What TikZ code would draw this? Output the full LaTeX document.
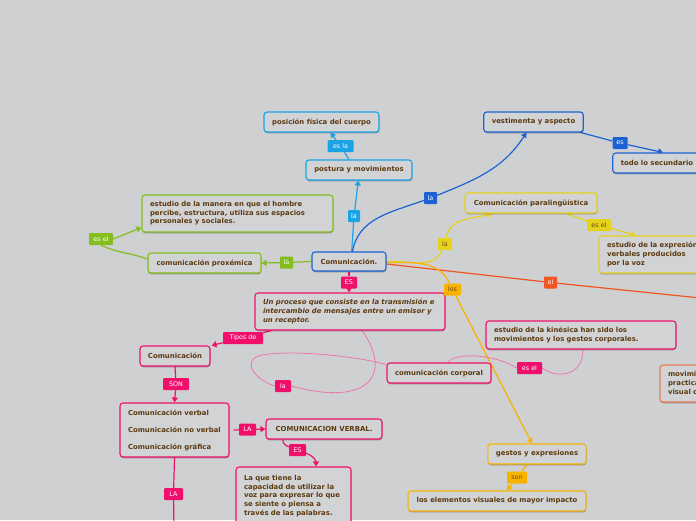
\documentclass[tikz,border=0pt]{standalone}
\usepackage{fontspec}
\setmainfont{DejaVu Sans}
\usetikzlibrary{shadows,arrows.meta}
\definecolor{bg}{HTML}{CFD0D2}
\definecolor{nfill}{HTML}{D2D3D5}
\definecolor{txt}{HTML}{5C3A10}
\definecolor{ltxt}{HTML}{6A4A12}
\definecolor{lblue}{HTML}{1CA3E6}
\definecolor{dblue}{HTML}{1C62D4}
\definecolor{cgreen}{HTML}{84BD1E}
\definecolor{cyellow}{HTML}{E6D219}
\definecolor{corange}{HTML}{F8B300}
\definecolor{cpink}{HTML}{F0106C}
\definecolor{cred}{HTML}{F25522}
\definecolor{csalmon}{HTML}{E97A55}
\definecolor{pthin}{HTML}{EC77A5}
\pgfdeclarelayer{bgl}
\pgfdeclarelayer{lines}
\pgfsetlayers{bgl,lines,main}
\begin{document}
\begin{tikzpicture}[x=1pt,y=-1pt,
  bx/.style={rectangle, draw, line width=1.1pt, rounded corners=3pt, fill=nfill, text=txt,
    font=\bfseries\fontsize{6.9}{8.6}\selectfont, inner xsep=8pt, inner ysep=2pt,
    drop shadow={shadow xshift=0.4pt, shadow yshift=-1.3pt, opacity=0.3, fill=black}},
  ml/.style={align=left, text width=#1},
  lbl/.style={rectangle, rounded corners=1pt, inner sep=0pt, minimum height=12pt,
    text=white, font=\fontsize{6.4}{7}\selectfont},
  con/.style={line width=1.2pt},
  thin/.style={line width=0.8pt, pthin},
  arr/.style={-{Triangle[length=5pt,width=6pt]}}]
\useasboundingbox (0,0) rectangle (696,520);
\begin{pgfonlayer}{bgl}
\fill[bg] (0,0) rectangle (696,520);
\end{pgfonlayer}
\clip (0,0) rectangle (696,520);

% nodes
\node[bx, draw=lblue, minimum width=115pt, minimum height=20pt] (pos) at (321.5,122) {posición física del cuerpo};
\node[bx, draw=lblue, minimum width=106pt, minimum height=20pt] (post) at (359,170) {postura y movimientos};
\node[bx, draw=cgreen, ml=175pt, minimum height=37pt] (est1) at (237.5,213.5) {estudio de la manera en que el hombre\\percibe, estructura, utiliza sus espacios\\personales y sociales.};
\node[bx, draw=cgreen, minimum width=113pt, minimum height=20pt] (prox) at (204.5,263) {comunicación proxémica};
\node[bx, draw=dblue, minimum width=74pt, minimum height=19pt] (com) at (349,261.5) {Comunicación.};
\node[bx, draw=dblue, minimum width=99pt, minimum height=20pt] (vest) at (533.5,122) {vestimenta y aspecto};
\node[bx, draw=dblue, minimum width=88pt, minimum height=20pt] (todo) at (657,163) {todo lo secundario};
\node[bx, draw=cyellow, minimum width=132pt, minimum height=20pt] (para) at (531,203) {Comunicación paralingüística};
\node[bx, draw=cyellow, ml=150pt, minimum height=37pt] (expr) at (682,254.5) {estudio de la expresión\\verbales producidos\\por la voz};
\node[bx, draw=cpink, ml=174pt, minimum height=37pt, font=\bfseries\itshape\fontsize{6.9}{8.6}\selectfont] (proc) at (350,311.5) {Un proceso que consiste en la transmisión e\\intercambio de mensajes entre un emisor y\\un receptor.};
\node[bx, draw=cpink, minimum width=70pt, minimum height=20pt] (ctip) at (175,356) {Comunicación};
\node[bx, draw=cpink, ml=174pt, minimum height=28pt] (kin) at (581,335) {estudio de la kinésica han sido los\\movimientos y los gestos corporales.};
\node[bx, draw=cpink, minimum width=104pt, minimum height=20pt] (corp) at (439,373) {comunicación corporal};
\node[bx, draw=csalmon, ml=60pt, minimum height=37pt] (mov) at (698,383.5) {movimientos\\practicas\\visual corporal};
\node[bx, draw=cpink, ml=93pt, minimum height=54pt] (list) at (174.5,430) {Comunicación verbal\\[8.4pt]Comunicación no verbal\\[8.4pt]Comunicación gráfica};
\node[bx, draw=cpink, minimum width=116pt, minimum height=20pt] (cverb) at (324,429) {COMUNICACION VERBAL.};
\node[bx, draw=cpink, ml=99pt, minimum height=58pt] (laque) at (293.5,496) {La que tiene la\\capacidad de utilizar la\\voz para expresar lo que\\se siente o piensa a\\través de las palabras.};
\node[bx, draw=corange, minimum width=98pt, minimum height=20pt] (gest) at (537,454) {gestos y expresiones};
\node[bx, draw=corange, minimum width=178pt, minimum height=20pt] (elem) at (497,501) {los elementos visuales de mayor impacto};

% labels
\node[lbl, fill=lblue, minimum width=26pt] (lesla) at (340.5,146) {es la};
\node[lbl, fill=lblue, minimum width=12pt] (lla1) at (354,216) {la};
\node[lbl, fill=cgreen, minimum width=13pt] (lla2) at (286.5,262.5) {la};
\node[lbl, fill=cgreen, minimum width=24pt] (lesel1) at (101,239) {es el};
\node[lbl, fill=dblue, minimum width=13pt] (lla3) at (430.5,198) {la};
\node[lbl, fill=dblue, minimum width=15pt] (les) at (620,143) {es};
\node[lbl, fill=cyellow, text=ltxt, minimum width=14pt] (lla4) at (445,244) {la};
\node[lbl, fill=cyellow, text=ltxt, minimum width=24pt] (lesel2) at (599,225) {es el};
\node[lbl, fill=cpink, minimum width=16pt] (lES1) at (349,282.5) {ES};
\node[lbl, fill=cred, minimum width=13pt] (lel) at (550.5,282.5) {el};
\node[lbl, fill=corange, text=ltxt, minimum width=17pt] (llos) at (452.5,289.5) {los};
\node[lbl, fill=cpink, minimum width=40pt] (ltipos) at (243,338) {Tipos de};
\node[lbl, fill=cpink, minimum width=16pt] (lla5) at (283,386) {la};
\node[lbl, fill=cpink, minimum width=25pt] (lesel3) at (529.5,368) {es el};
\node[lbl, fill=cpink, minimum width=26pt] (lSON) at (176,384) {SON};
\node[lbl, fill=cpink, minimum width=17pt] (lLA1) at (247.5,429.5) {LA};
\node[lbl, fill=cpink, minimum width=17pt] (lES2) at (297.5,450) {ES};
\node[lbl, fill=cpink, minimum width=19pt] (lLA2) at (173.5,494) {LA};
\node[lbl, fill=corange, text=ltxt, minimum width=20pt] (lson) at (517,477.5) {son};
\coordinate (redend) at (710,299);
\coordinate (laend) at (174,530);

\begin{pgfonlayer}{lines}
% light blue
\draw[con, lblue] ([xshift=2.7pt]com.north) -- (lla1);
\draw[con, lblue, arr] (lla1) -- ([xshift=-0.7pt]post.south);
\draw[con, lblue] ([xshift=-10pt]post.north) -- (lesla);
\draw[con, lblue, arr] (lesla) -- ([xshift=9pt]pos.south);
% green
\draw[con, cgreen] (com.west) -- (lla2);
\draw[con, cgreen, arr] (lla2) -- (prox.east);
\draw[con, cgreen] ([yshift=4pt]prox.west) to[out=160, in=-25] (lesel1.south);
\draw[con, cgreen, arr] (lesel1.east) -- ([yshift=-14pt]est1.west);
% dark blue
\draw[con, dblue] ([xshift=3.5pt]com.north) to[out=80, in=200] (lla3);
\draw[con, dblue, arr] (lla3) to[out=22, in=237] ([xshift=-7pt]vest.south);
\draw[con, dblue] ([xshift=-3pt]vest.south east) -- (les);
\draw[con, dblue, arr] (les) -- ([xshift=6pt]todo.north);
% yellow
\draw[con, cyellow] (com.east) to[out=3, in=-115] (lla4);
\draw[con, cyellow, arr] (lla4) to[out=80, in=195] ([xshift=-39pt]para.south);
\draw[con, cyellow] ([xshift=35pt]para.south) -- (lesel2);
\draw[con, cyellow, arr] (lesel2) -- ([xshift=-46pt]expr.north);
% red
\draw[con, cred] ([yshift=-2.5pt]com.east) -- (lel);
\draw[con, cred] (lel) -- (redend);
% orange
\draw[con, corange] ([yshift=-1pt]com.east) to[out=0, in=115] (llos);
\draw[con, corange, arr] (llos) -- ([xshift=-5pt]gest.north);
\draw[con, corange] ([xshift=-10pt]gest.south) -- (lson);
\draw[con, corange, arr] (lson) -- ([xshift=10pt]elem.north);
% pink
\draw[con, cpink] (com.south) -- (lES1);
\draw[con, cpink, arr] (lES1) -- ([xshift=-1pt]proc.north);
\draw[con, cpink] ([xshift=17pt]proc.south west) -- (ltipos);
\draw[con, cpink, arr] (ltipos) -- ([xshift=1pt]ctip.north east);
\draw[con, cpink] (ctip.south) -- (lSON);
\draw[con, cpink, arr] (lSON) -- (list.north);
\draw[con, cpink] ([xshift=4pt]list.east) -- (lLA1);
\draw[con, cpink, arr] (lLA1) -- (cverb.west);
\draw[con, cpink] ([xshift=-41pt]cverb.south) to[out=-100, in=160] (lES2);
\draw[con, cpink, arr] (lES2) to[out=-20, in=90] ([xshift=22.5pt]laque.north);
\draw[con, cpink] (list.south) -- (lLA2);
\draw[con, cpink] (lLA2) -- (laend);
% thin pink
\draw[thin] ([xshift=12pt]proc.south) .. controls (392,372) and (372,408) .. (lla5.east);
\draw[thin] (lla5.west) .. controls (255,380) and (240,360) .. (262,355) .. controls (290,350) and (350,355) .. ([yshift=-2pt]corp.north west);
\draw[thin] ([xshift=9pt]corp.north) .. controls (455,352) and (495,354) .. (lesel3.west);
\draw[thin] (lesel3.east) .. controls (555,378) and (583,378) .. ([xshift=2pt]kin.south);
\end{pgfonlayer}
\end{tikzpicture}
\end{document}
